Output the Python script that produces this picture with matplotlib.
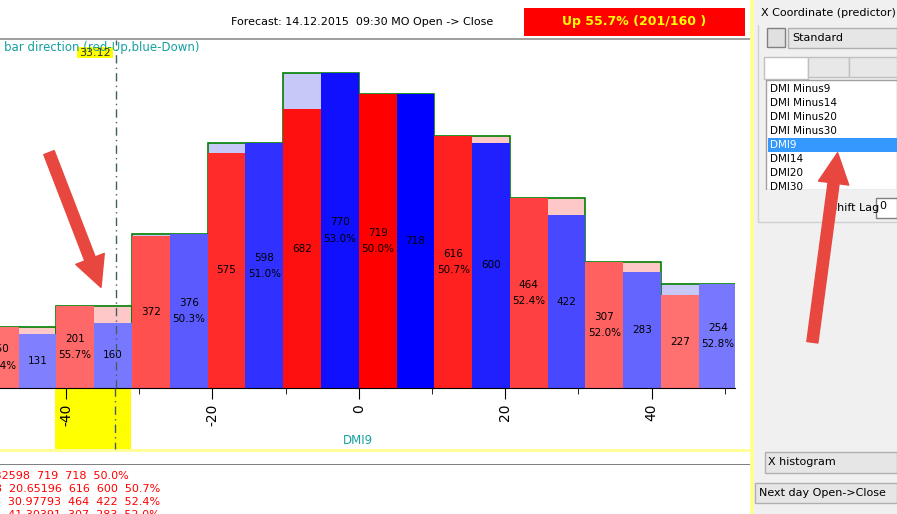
import matplotlib.pyplot as plt
from matplotlib.patches import Rectangle, FancyArrowPatch

# histogram of DMI9, bins of width 10.32598
bin_width = 10.32598
bin_left = [-51.62990, -41.30391, -30.97793, -20.65196, -10.32598,
            0.0, 10.32598, 20.65196, 30.97793, 41.30391]
up_counts = [150, 201, 372, 575, 682, 719, 616, 464, 307, 227]
down_counts = [131, 160, 376, 598, 770, 718, 600, 422, 283, 254]
marker_value = -33.12
x_ticks = [-40, -20, 0, 20, 40]
list_items = ["DMI Minus9", "DMI Minus14", "DMI Minus20", "DMI Minus30",
              "DMI9", "DMI14", "DMI20", "DMI30"]
table_lines = ["0  10.32598  719  718  50.0%",
               "10.32598  20.65196  616  600  50.7%",
               "20.65196  30.97793  464  422  52.4%",
               "30.97793  41.30391  307  283  52.0%"]

# shade per bin (lighter for thin bins)
red_shades = ["#ff7070", "#ff6868", "#ff5050", "#ff2a2a", "#ff1010",
              "#ff0000", "#ff2020", "#ff4040", "#ff6060", "#ff7070"]
blue_shades = ["#8080ff", "#7878ff", "#5a5aff", "#3030ff", "#1010ff",
               "#0000ff", "#2020ff", "#4848ff", "#6464ff", "#7878ff"]

W, H = 897, 514
fig = plt.figure(figsize=(W / 100, H / 100), dpi=100)
fig.patch.set_facecolor("white")


def px(x, y):
    return x / W, 1 - y / H


def frect(x0, y0, x1, y1, fc, ec="none", lw=1, z=0):
    fig.patches.append(Rectangle(px(x0, y1), (x1 - x0) / W, (y1 - y0) / H,
                                 transform=fig.transFigure, facecolor=fc,
                                 edgecolor=ec, linewidth=lw, zorder=z))


ax = fig.add_axes([0, (H - 388) / H, 735 / W, 348 / H])
ax.set_xlim(-49.0, 51.4)
ax.set_ylim(0, 851)
ax.patch.set_alpha(0)
for s in ["left", "right", "top"]:
    ax.spines[s].set_visible(False)
ax.spines["bottom"].set_color("black")
ax.set_yticks([])
ax.set_xticks(x_ticks)
ax.set_xticklabels([str(t) for t in x_ticks], rotation=90, fontsize=10)
ax.set_xticks([-30, -10, 10, 30, 50], minor=True)
ax.tick_params(axis="x", which="major", length=8, direction="out")
ax.tick_params(axis="x", which="minor", length=4)

for i, left in enumerate(bin_left):
    u, d = up_counts[i], down_counts[i]
    half = bin_width / 2
    top = max(u, d)
    bg = "#ffc8c8" if u > d else "#c8c8f8"
    ax.bar(left, top, width=bin_width, align="edge", color=bg,
           edgecolor="green", linewidth=1.2, zorder=1)
    ax.bar(left, u, width=half, align="edge", color=red_shades[i], zorder=2)
    ax.bar(left + half, d, width=half, align="edge", color=blue_shades[i], zorder=2)
    pct = max(u, d) / (u + d) * 100
    for j, c in enumerate([u, d]):
        cx = left + half * (j + 0.5)
        ymid = c / 2
        if c == max(u, d):
            ax.text(cx, ymid + 20, str(c), ha="center", va="center", fontsize=7.5, zorder=3)
            ax.text(cx, ymid - 20, f"{pct:.1f}%", ha="center", va="center", fontsize=7.5, zorder=3)
        else:
            ax.text(cx, ymid, str(c), ha="center", va="center", fontsize=7.5, zorder=3)

ax.axvline(marker_value, color="#406060", linestyle=(0, (6, 3, 1, 3)), linewidth=1, zorder=4)

# yellow band under the selected bin
frect(55, 388, 131, 449, "#ffff00", z=-1)
fig.add_artist(plt.Line2D([115 / W, 115 / W], [1 - 388 / H, 1 - 449 / H],
                          color="#406060", linestyle=(0, (6, 3, 1, 3)), lw=1))
frect(0, 449, 750, 452, "#ffff99")
frect(0, 38, 750, 39.5, "#a0a0a0")
frect(0, 464, 750, 465, "#808080")
frect(750, 0, 754, 514, "#ffff99")

fig.text(*px(362, 22), "Forecast: 14.12.2015  09:30 MO Open -> Close",
         ha="center", va="center", fontsize=8)
frect(524, 8, 745, 36, "#ff0000")
fig.text(*px(634, 22), "Up 55.7% (201/160 )", ha="center", va="center",
         fontsize=9, color="#ffff00", fontweight="bold")
fig.text(*px(4, 48), "bar direction (red-Up,blue-Down)", ha="left", va="center",
         fontsize=8.5, color="#16a0a0")
frect(77, 47, 113, 58, "#ffff00", z=3)
fig.text(*px(95, 53), "33.12", ha="center", va="center", fontsize=8, color="#303030", zorder=4)
fig.text(*px(358, 440), "DMI9", ha="center", va="center", fontsize=8.5, color="#16a0a0")

ends = [129, 160, 160, 160]
for k, line in enumerate(table_lines):
    fig.text(*px(ends[k], 476 + 13 * k), line, ha="right", va="center",
             fontsize=8, color="red")

# right panel
frect(754, 0, 897, 514, "#f0f0f0")
frect(758, 12, 897, 222, "none", ec="#d0d0d0")
fig.text(*px(761, 13), "X Coordinate (predictor)", ha="left", va="center",
         fontsize=8, backgroundcolor="#f0f0f0")
frect(767, 28, 785, 47, "#e0e0e0", ec="#808080")
frect(788, 28, 897, 48, "#e6e6e6", ec="#b0b0b0")
fig.text(*px(792, 38), "Standard", ha="left", va="center", fontsize=8)
frect(764, 57, 808, 79, "white", ec="#c0c0c0")
frect(808, 57, 849, 77, "#e8e8e8", ec="#c0c0c0")
frect(849, 57, 897, 77, "#e8e8e8", ec="#c0c0c0")
frect(766, 80, 897, 190, "white", ec="#a0a0a0")
for k, item in enumerate(list_items):
    yy = 89 + 14 * k
    if item == "DMI9":
        frect(768, yy - 7, 897, yy + 7, "#3399ff")
    fig.text(*px(770, yy), item, ha="left", va="center", fontsize=7.5,
             color="white" if item == "DMI9" else "black")
frect(760, 190, 897, 196, "#f0f0f0", z=2)
fig.text(*px(830, 208), "Shift Lag", ha="left", va="center", fontsize=8)
frect(876, 198, 897, 218, "white", ec="#808080", z=3)
fig.text(*px(879, 206), "0", ha="left", va="center", fontsize=8, zorder=4)
frect(765, 452, 897, 473, "#e6e6e6", ec="#b0b0b0")
fig.text(*px(768, 462), "X histogram", ha="left", va="center", fontsize=8)
frect(755, 483, 897, 503, "#e6e6e6", ec="#b0b0b0")
fig.text(*px(759, 493), "Next day Open->Close", ha="left", va="center", fontsize=8)

# annotation arrows
for (x0, y0), (x1, y1) in [((48, 150), (102, 290)), ((812, 345), (838, 150))]:
    fig.patches.append(FancyArrowPatch(px(x0, y0), px(x1, y1), transform=fig.transFigure,
                                       arrowstyle="simple,head_width=2.2,head_length=2.2,tail_width=0.8",
                                       mutation_scale=10, color="#e8473f", zorder=10))

fig.savefig("out.png", dpi=100)
